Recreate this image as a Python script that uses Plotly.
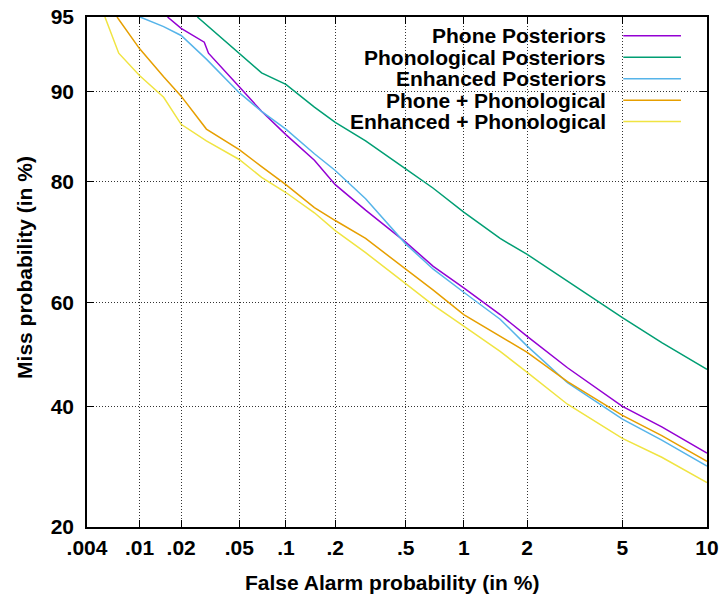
import plotly.graph_objects as go
from statistics import NormalDist

_nd = NormalDist()


def probit(pct):
    """Normal-deviate (DET) scale for a percentage value."""
    return _nd.inv_cdf(pct / 100.0)


series_names = ["Phone Posteriors", "Phonological Posteriors", "Enhanced Posteriors",
                "Phone + Phonological", "Enhanced + Phonological"]
series_colors = ["#9400D3", "#009E73", "#56B4E9", "#E69F00", "#F0E442"]

# False alarm (%) / miss (%) pairs
phone_fa = [0.016, 0.02, 0.029, 0.031, 0.05, 0.07, 0.1, 0.15, 0.2, 0.3, 0.5, 0.7, 1, 1.5, 2, 3, 5, 7, 10]
phone_miss = [95.0, 94.4, 93.6, 92.9, 90.4, 88.2, 85.8, 82.8, 79.6, 75.9, 70.8, 66.6, 62.7, 57.7, 53.5, 47.4, 40.0, 36.2, 31.5]

phono_fa = [0.026, 0.03, 0.05, 0.07, 0.1, 0.15, 0.2, 0.3, 0.5, 0.7, 1, 1.5, 2, 3, 5, 7, 10]
phono_miss = [95.0, 94.6, 92.9, 91.5, 90.6, 88.6, 87.1, 85.1, 81.7, 79.1, 75.6, 71.4, 68.7, 63.9, 57.1, 52.3, 47.1]

enh_fa = [0.0101, 0.015, 0.02, 0.03, 0.05, 0.07, 0.1, 0.15, 0.2, 0.3, 0.5, 0.7, 1, 1.5, 2, 3, 5, 7, 10]
enh_miss = [95.0, 94.5, 94.0, 92.5, 89.9, 88.2, 86.4, 83.6, 81.5, 77.6, 70.5, 66.1, 61.9, 56.8, 51.6, 44.5, 37.6, 33.8, 29.3]

phone_phono_fa = [0.0068, 0.01, 0.015, 0.02, 0.03, 0.05, 0.07, 0.1, 0.15, 0.2, 0.3, 0.5, 0.7, 1, 1.5, 2, 3, 5, 7, 10]
phone_phono_miss = [95.0, 93.2, 91.2, 89.6, 86.4, 84.1, 82.0, 79.6, 76.3, 74.3, 71.4, 66.1, 62.3, 57.7, 53.5, 50.4, 44.7, 38.3, 34.6, 30.1]

enh_phono_fa = [0.0055, 0.007, 0.01, 0.015, 0.02, 0.03, 0.05, 0.07, 0.1, 0.15, 0.2, 0.3, 0.5, 0.7, 1, 1.5, 2, 3, 5, 7, 10]
enh_phono_miss = [95.0, 92.9, 91.3, 89.5, 86.9, 85.1, 82.9, 80.6, 78.5, 75.5, 72.7, 69.0, 63.5, 59.5, 55.5, 50.6, 46.5, 40.4, 34.1, 30.8, 26.6]

x_tick_values = [0.004, 0.01, 0.02, 0.05, 0.1, 0.2, 0.5, 1, 2, 5, 10]
x_tick_labels = [".004", ".01", ".02", ".05", ".1", ".2", ".5", "1", "2", "5", "10"]
y_tick_values = [20, 40, 60, 80, 90, 95]
y_tick_labels = ["20", "40", "60", "80", "90", "95"]

series = [
    (phone_fa, phone_miss),
    (phono_fa, phono_miss),
    (enh_fa, enh_miss),
    (phone_phono_fa, phone_phono_miss),
    (enh_phono_fa, enh_phono_miss),
]

FONT = "Liberation Sans, Arial, sans-serif"
FSIZE = 21

fig = go.Figure()
for (fa, miss), name, color in zip(series, series_names, series_colors):
    fig.add_trace(go.Scatter(
        x=[probit(v) for v in fa], y=[probit(v) for v in miss],
        mode="lines", name=name, line=dict(color=color, width=1.5),
        showlegend=False,
    ))

# custom gnuplot-style key: right-aligned text, line sample to the right
annotations = []
shapes = [dict(type="rect", xref="paper", yref="paper", x0=0.363, x1=1.0, y0=0.7725, y1=1.0,
               fillcolor="white", line=dict(width=0), layer="between")]
row_y = [0.963, 0.921, 0.879, 0.837, 0.795]
for name, color, yy in zip(series_names, series_colors, row_y):
    annotations.append(dict(text=name, xref="paper", yref="paper", x=0.841, y=yy,
                            xanchor="right", yanchor="middle", showarrow=False,
                            font=dict(family=FONT, size=FSIZE, color="black", weight="bold")))
    shapes.append(dict(type="line", xref="paper", yref="paper", x0=0.865, x1=0.958, y0=yy, y1=yy,
                       line=dict(color=color, width=1.5), layer="above"))

annotations.append(dict(text="False Alarm probability (in %)", xref="paper", yref="paper",
                        x=0.492, y=-0.108, xanchor="center", yanchor="middle", showarrow=False,
                        font=dict(family=FONT, size=FSIZE, color="black", weight="bold")))
annotations.append(dict(text="Miss probability (in %)", xref="paper", yref="paper",
                        x=-0.1, y=0.508, xanchor="center", yanchor="middle", showarrow=False,
                        textangle=-90,
                        font=dict(family=FONT, size=FSIZE, color="black", weight="bold")))

axis_common = dict(
    showline=True, linecolor="black", linewidth=1.5, mirror="ticks",
    ticks="inside", ticklen=7, tickcolor="black", tickwidth=1,
    showgrid=True, gridcolor="#333333", griddash="1px,2px", gridwidth=1,
    zeroline=False, automargin=False,
    tickfont=dict(family=FONT, size=FSIZE, color="black", weight="bold"),
)

fig.update_layout(
    width=721, height=597,
    margin=dict(l=87, r=14, t=17, b=70),
    plot_bgcolor="white", paper_bgcolor="white",
    xaxis=dict(range=[probit(0.004), probit(10)],
               tickvals=[probit(v) for v in x_tick_values], ticktext=x_tick_labels,
               ticklabelstandoff=1, **axis_common),
    yaxis=dict(range=[probit(20), probit(95)],
               tickvals=[probit(v) for v in y_tick_values], ticktext=y_tick_labels,
               ticklabelstandoff=7, **axis_common),
    annotations=annotations,
    shapes=shapes,
)

fig.write_html("out.html", config={"displayModeBar": False},
               post_script="document.body.style.margin='0px';document.body.style.padding='0px';")
